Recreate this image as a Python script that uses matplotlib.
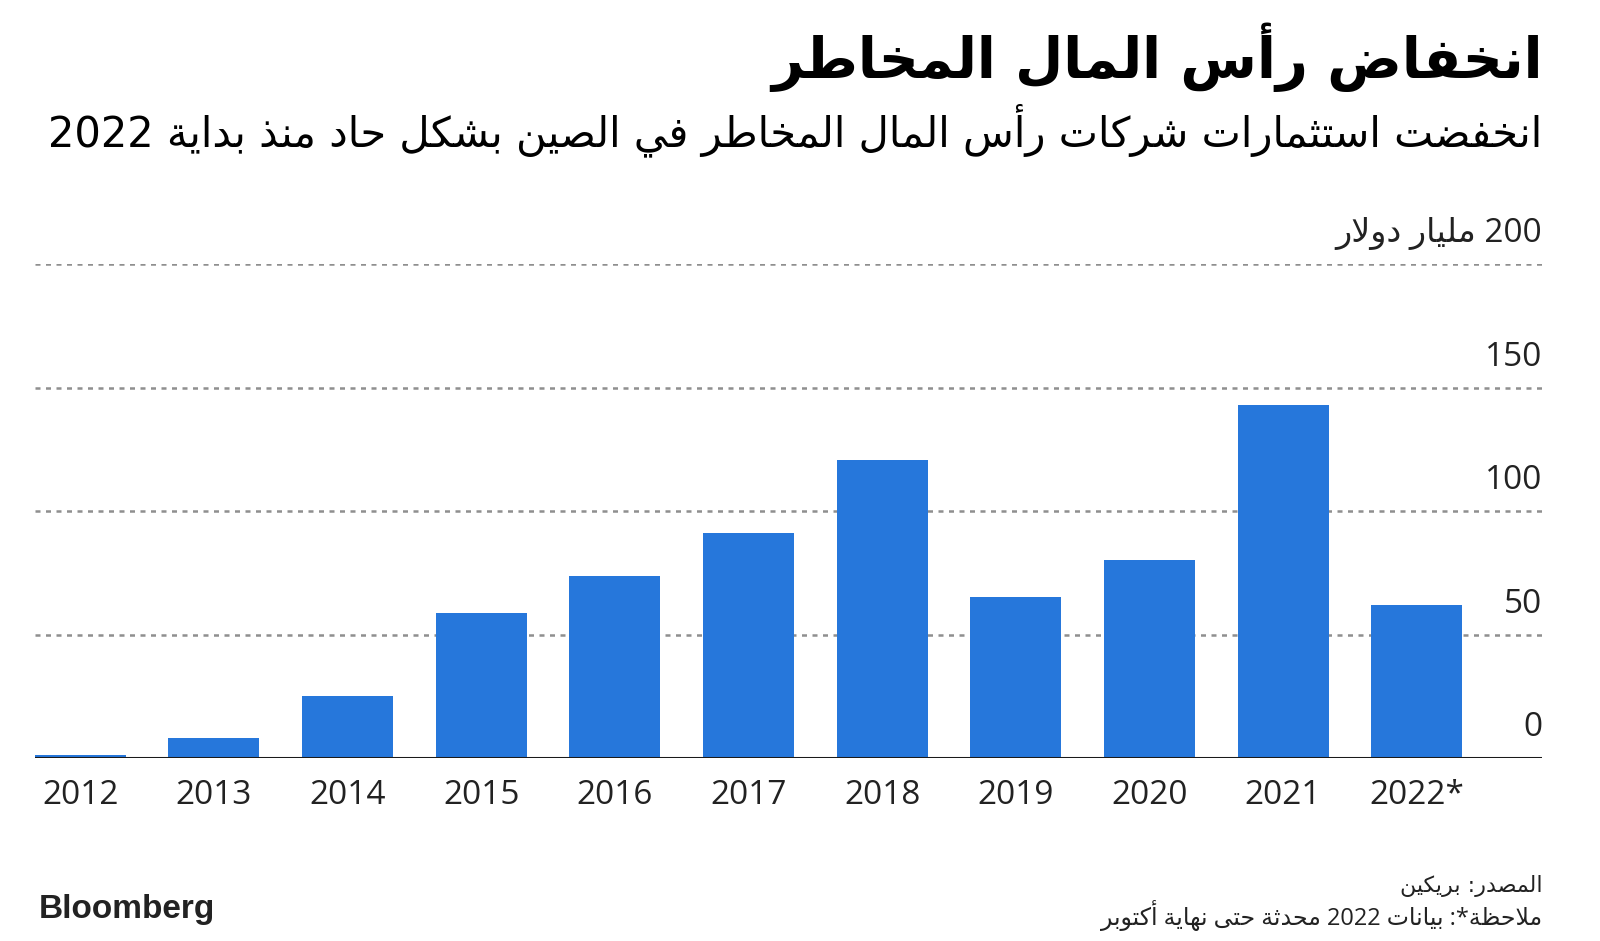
import re
import matplotlib
matplotlib.use("Agg")
import matplotlib.pyplot as plt
from matplotlib.transforms import blended_transform_factory, offset_copy

# ---------------- data ----------------
years = ["2012", "2013", "2014", "2015", "2016", "2017", "2018", "2019", "2020", "2021", "2022*"]
values = [1.2, 8.3, 25.2, 59, 74, 91.3, 121, 65.3, 80.2, 143, 62]
yticks = [0, 50, 100, 150]
title = "انخفاض رأس المال المخاطر"
subtitle = "انخفضت استثمارات شركات رأس المال المخاطر في الصين بشكل حاد منذ بداية 2022"
unit_label = "200 مليار دولار"
source = "المصدر: بريكين"
note = "ملاحظة*: بيانات 2022 محدثة حتى نهاية أكتوبر"

# ------------- minimal Arabic shaping + RTL ordering -------------
_AR = {0x0621: (0xFE80, 1), 0x0622: (0xFE81, 2), 0x0623: (0xFE83, 2), 0x0624: (0xFE85, 2),
       0x0625: (0xFE87, 2), 0x0626: (0xFE89, 4), 0x0627: (0xFE8D, 2), 0x0628: (0xFE8F, 4),
       0x0629: (0xFE93, 2), 0x062A: (0xFE95, 4), 0x062B: (0xFE99, 4), 0x062C: (0xFE9D, 4),
       0x062D: (0xFEA1, 4), 0x062E: (0xFEA5, 4), 0x062F: (0xFEA9, 2), 0x0630: (0xFEAB, 2),
       0x0631: (0xFEAD, 2), 0x0632: (0xFEAF, 2), 0x0633: (0xFEB1, 4), 0x0634: (0xFEB5, 4),
       0x0635: (0xFEB9, 4), 0x0636: (0xFEBD, 4), 0x0637: (0xFEC1, 4), 0x0638: (0xFEC5, 4),
       0x0639: (0xFEC9, 4), 0x063A: (0xFECD, 4), 0x0641: (0xFED1, 4), 0x0642: (0xFED5, 4),
       0x0643: (0xFED9, 4), 0x0644: (0xFEDD, 4), 0x0645: (0xFEE1, 4), 0x0646: (0xFEE5, 4),
       0x0647: (0xFEE9, 4), 0x0648: (0xFEED, 2), 0x0649: (0xFEEF, 2), 0x064A: (0xFEF1, 4)}
_LAMALEF = {0x0622: 0xFEF5, 0x0623: 0xFEF7, 0x0625: 0xFEF9, 0x0627: 0xFEFB}


def ar(s):
    units = []
    i = 0
    while i < len(s):
        c = ord(s[i])
        if c == 0x0644 and i + 1 < len(s) and ord(s[i + 1]) in _LAMALEF:
            units.append((_LAMALEF[ord(s[i + 1])], 2))
            i += 2
            continue
        units.append(_AR.get(c, s[i]))
        i += 1
    out = []
    for k, u in enumerate(units):
        if isinstance(u, str):
            out.append(u)
            continue
        base, n = u
        prev = units[k - 1] if k > 0 else None
        nxt = units[k + 1] if k + 1 < len(units) else None
        jp = isinstance(prev, tuple) and prev[1] == 4
        jn = n == 4 and isinstance(nxt, tuple) and nxt[1] >= 2
        if n == 1:
            f = 0
        elif n == 2:
            f = 1 if jp else 0
        else:
            f = 3 if (jp and jn) else 1 if jp else 2 if jn else 0
        out.append(chr(base + f))
    vis = "".join(out)[::-1]
    return re.sub(r"[0-9A-Za-z.,]+", lambda m: m.group(0)[::-1], vis)


# ---------------- figure ----------------
W, H = 1600, 941
fig = plt.figure(figsize=(W / 100, H / 100), dpi=100)
fig.patch.set_facecolor("white")

AR_FONT = ["DejaVu Sans"]
NUM_FONT = ["Open Sans", "DejaVu Sans"]
TXT = "#222222"

ax = fig.add_axes([0.0217, 0.194, 0.964 - 0.0217, 0.719 - 0.194])
x = list(range(len(years)))
ax.bar(x, values, width=0.68, color="#2677DB", zorder=3)
ax.set_xlim(-0.34, 10.94)
ax.set_ylim(0, 200)

for v in [50, 100, 150, 200]:
    ax.axhline(v, color="#8f8f8f", lw=1.8, ls=(0, (2, 2.2)), zorder=1)
ax.axhline(0, color="#1a1a1a", lw=2.2, zorder=4)

for s in ax.spines.values():
    s.set_visible(False)
ax.set_yticks([])
ax.set_xticks(x)
ax.set_xticklabels(years, fontfamily=NUM_FONT, fontsize=24, color=TXT)
ax.tick_params(axis="x", length=0, pad=15)

trans = offset_copy(blended_transform_factory(ax.transAxes, ax.transData), fig=fig, x=0, y=14, units="dots")
for v in yticks:
    ax.text(1.0, v, str(v), transform=trans, ha="right", va="bottom",
            fontfamily=NUM_FONT, fontsize=24, color=TXT)
ax.text(1.0, 200, ar(unit_label), transform=trans, ha="right", va="bottom",
        fontfamily=NUM_FONT, fontsize=24, color=TXT)

fig.text(0.964, 0.939, ar(title), ha="right", va="center", fontfamily=AR_FONT,
         fontweight="bold", fontsize=40, color="black")
fig.text(0.964, 0.862, ar(subtitle), ha="right", va="center", fontfamily=AR_FONT,
         fontsize=30, color="black")

fig.text(0.964, 0.058, ar(source), ha="right", va="center", fontfamily=AR_FONT,
         fontsize=16, color=TXT)
fig.text(0.964, 0.027, ar(note), ha="right", va="center", fontfamily=NUM_FONT,
         fontsize=17, color=TXT)
fig.text(0.024, 0.034, "Bloomberg", ha="left", va="center", fontfamily=["Liberation Sans"],
         fontweight="bold", fontsize=24, color="#222222")

fig.savefig("out.png", dpi=100, facecolor="white")
